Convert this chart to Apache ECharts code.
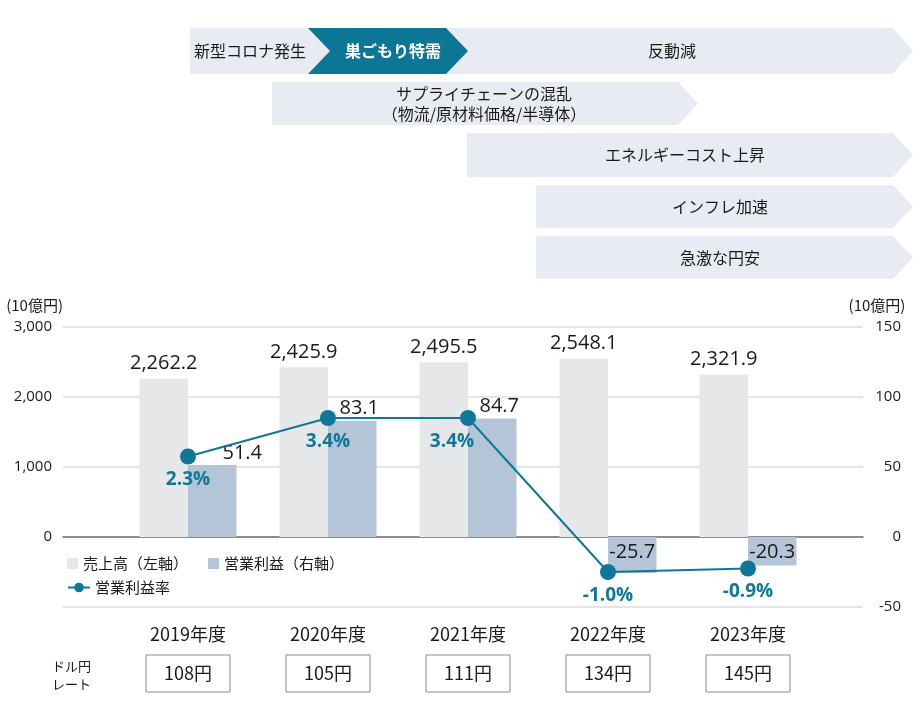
<!DOCTYPE html>
<html><head><meta charset="utf-8">
<script src="https://cdn.jsdelivr.net/npm/echarts@6/dist/echarts.min.js"></script>
<style>html,body{margin:0;padding:0;background:#fff}#c{width:920px;height:723px}</style>
</head><body><div id="c"></div>
<script>
const categories = ['2019年度','2020年度','2021年度','2022年度','2023年度'];
const sales = [2262.2, 2425.9, 2495.5, 2548.1, 2321.9];
const opProfit = [51.4, 83.1, 84.7, -25.7, -20.3];
const opMargin = [2.3, 3.4, 3.4, -1.0, -0.9];
const fxRates = ['108円','105円','111円','134円','145円'];
const leftTicks = [-1000, 0, 1000, 2000, 3000];
const rightTicks = [-50, 0, 50, 100, 150];
const seriesNames = ['売上高（左軸）','営業利益（右軸）','営業利益率'];

const FONT = '"Noto Sans CJK JP", "Noto Sans", sans-serif';
const NUMFONT = '"Open Sans", "Noto Sans CJK JP", sans-serif';
const C_SALES = '#e6e7e9', C_OP = '#b3c5d6', C_LINE = '#0f7898', C_TEXT = '#1a1a1a';
const opLabelOffsets = [[30,0],[7,0],[7,0],[0,0],[0,0]];
const marginLabelOffsets = [[0,0],[0,0],[-16,0],[0,0],[0,0]];

const fmt1 = v => v.toLocaleString('en-US',{minimumFractionDigits:1, maximumFractionDigits:1});

function banner(x1, y1, x2, y2, tip, fill, notch){
  const ym = (y1+y2)/2;
  const pts = notch ? [[x1,y1],[x2,y1],[x2+tip,ym],[x2,y2],[x1,y2],[x1+notch,ym]]
                    : [[x1,y1],[x2,y1],[x2+tip,ym],[x2,y2],[x1,y2]];
  return {type:'polygon', shape:{points:pts}, style:{fill:fill}, silent:true, z:1};
}
function btext(t, x, y, color, bold){
  return {type:'text', x:x, y:y, z:2, silent:true,
    style:{text:t, fill:color||C_TEXT, font:(bold?'bold ':'')+'16px '+FONT, textAlign:'center', textVerticalAlign:'middle', lineHeight:20}};
}
const LIGHT = '#e8ecf2', TEAL = '#0b7695';
const graphics = [
  banner(190,28,893,74,20,LIGHT),
  banner(308,28,446,74,22,TEAL,22),
  btext('新型コロナ発生',250,51),
  btext('巣ごもり特需',393,51,'#ffffff',true),
  btext('反動減',672,51),
  banner(272,82,678,125,20,LIGHT),
  btext('サプライチェーンの混乱\n（物流/原材料価格/半導体）',484,104),
  banner(467,133,893,177,20,LIGHT),
  btext('エネルギーコスト上昇',685,155),
  banner(536,185,893,228,20,LIGHT),
  btext('インフレ加速',720,207),
  banner(536,236,893,279,20,LIGHT),
  btext('急激な円安',720,258),
  {type:'text', x:52, y:675, silent:true,
   style:{text:'ドル円\nレート', fill:C_TEXT, font:'13px '+FONT, textAlign:'left', textVerticalAlign:'middle', lineHeight:18}}
];

const chart = echarts.init(document.getElementById('c'), null, {renderer:'canvas'});
chart.setOption({
  backgroundColor:'#fff',
  textStyle:{fontFamily:FONT},
  animation:false,
  graphic: graphics,
  legend:[
    {left:62, top:551, itemWidth:11, itemHeight:11, itemGap:20, icon:'rect',
     data:[seriesNames[0], seriesNames[1]], textStyle:{fontSize:15, color:C_TEXT, fontFamily:FONT}},
    {left:62, top:575, itemWidth:22, itemHeight:12, data:[seriesNames[2]],
     textStyle:{fontSize:15, color:C_TEXT, fontFamily:FONT}}
  ],
  grid:[
    {left:63, right:57, top:327, bottom:116},
    {left:118, right:102, top:327, bottom:116}
  ],
  xAxis:[
    {gridIndex:0, type:'value', min:0, max:1, axisLabel:{show:false}, axisTick:{show:false}, splitLine:{show:false},
     axisLine:{show:true, onZero:true, lineStyle:{color:'#6f6f6f', width:1.5}}},
    {gridIndex:1, type:'category', data:categories, axisLine:{show:false}, axisTick:{show:false},
     axisLabel:{margin:18, fontSize:18, color:C_TEXT, fontFamily:FONT}},
    {gridIndex:1, type:'category', data:categories, position:'bottom', offset:48, axisLine:{show:false}, axisTick:{show:false},
     axisLabel:{margin:0, fontSize:18, color:C_TEXT, fontFamily:FONT, formatter:(v,i)=>fxRates[i],
       borderColor:'#8a8a8a', borderWidth:1, padding:[8,0,8,0], width:84, lineHeight:21, align:'center'}}
  ],
  yAxis:[
    {gridIndex:0, type:'value', min:leftTicks[0], max:leftTicks[leftTicks.length-1], interval:1000, position:'left',
     name:'(10億円)', nameLocation:'end', nameGap:14, nameTextStyle:{fontSize:15, color:C_TEXT, align:'right', fontFamily:FONT},
     axisLine:{show:false}, axisTick:{show:false},
     axisLabel:{margin:11, fontSize:15, color:C_TEXT, fontFamily:NUMFONT, formatter:v=> v<0 ? '' : v.toLocaleString('en-US')},
     splitLine:{lineStyle:{color:'#dcdcdc', width:1.5}}},
    {gridIndex:0, type:'value', min:rightTicks[0], max:rightTicks[rightTicks.length-1], interval:50, position:'right',
     name:'(10億円)', nameLocation:'end', nameGap:14, nameTextStyle:{fontSize:15, color:C_TEXT, padding:[0,0,0,28], fontFamily:FONT},
     axisLine:{show:false}, axisTick:{show:false}, splitLine:{show:false},
     axisLabel:{margin:38, align:'right', fontSize:15, color:C_TEXT, fontFamily:NUMFONT}},
    {gridIndex:1, type:'value', min:-1000, max:3000, show:false},
    {gridIndex:1, type:'value', min:-50, max:150, show:false},
    {gridIndex:1, type:'value', min:-2, max:6, show:false}
  ],
  series:[
    {name:seriesNames[0], type:'bar', xAxisIndex:1, yAxisIndex:2, barWidth:48.5, barGap:'0%',
     itemStyle:{color:C_SALES}, data:sales,
     label:{show:true, position:'top', distance:5, fontSize:20, color:C_TEXT, fontFamily:NUMFONT, formatter:p=>fmt1(p.value)}},
    {name:seriesNames[1], type:'bar', xAxisIndex:1, yAxisIndex:3, barWidth:48.5, barGap:'0%',
     itemStyle:{color:C_OP},
     data: opProfit.map((v,i)=>({value:v, label:{position: v<0 ? 'insideTop' : 'top', offset:opLabelOffsets[i], distance: v<0 ? 5 : 2}})),
     label:{show:true, fontSize:20, color:C_TEXT, fontFamily:NUMFONT, formatter:p=>fmt1(p.value)}},
    {name:seriesNames[2], type:'line', xAxisIndex:1, yAxisIndex:4, z:5,
     symbol:'circle', symbolSize:16, lineStyle:{color:C_LINE, width:2}, itemStyle:{color:C_LINE},
     data: opMargin.map((v,i)=>({value:v, label:{offset:marginLabelOffsets[i]}})),
     label:{show:true, position:'bottom', distance:6, fontSize:19, fontWeight:'bold', color:C_LINE, fontFamily:NUMFONT,
       formatter:p=>p.value.toFixed(1)+'%'}}
  ]
});
</script></body></html>
